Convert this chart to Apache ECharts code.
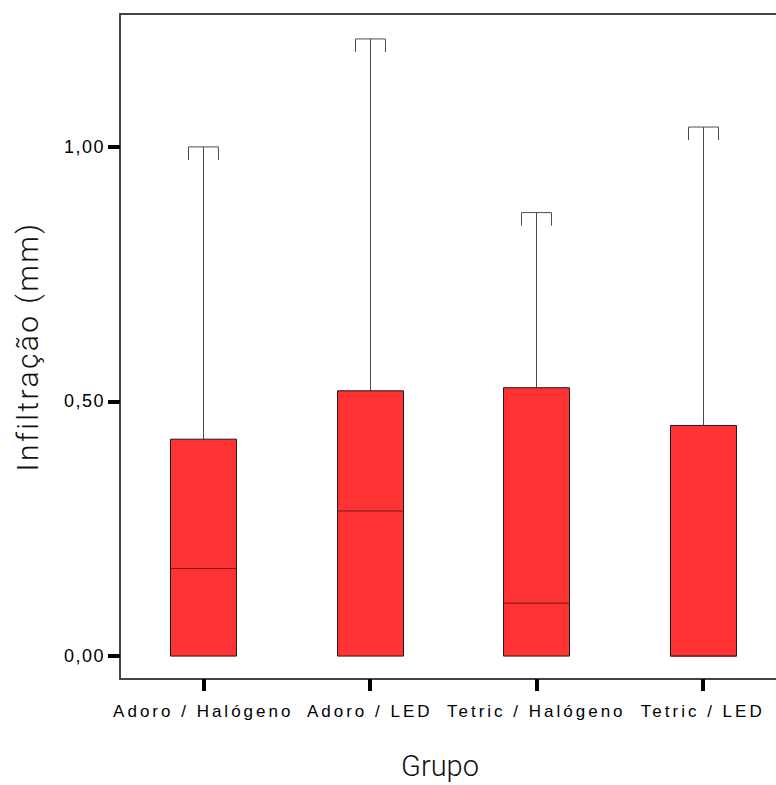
<!DOCTYPE html>
<html>
<head>
<meta charset="utf-8">
<script src="https://cdn.jsdelivr.net/npm/echarts@6/dist/echarts.min.js"></script>
<style>
  html, body { margin: 0; padding: 0; background: #ffffff; }
  #chart { width: 776px; height: 785px; }
</style>
</head>
<body>
<div id="chart"></div>
<script>
// Infiltração (mm) por grupo: mínimo, Q1, mediana, Q3, máximo
const groups = ['Adoro / Halógeno', 'Adoro / LED', 'Tetric / Halógeno', 'Tetric / LED'];
const lowWhisker = [0, 0, 0, 0];
const q1 = [0, 0, 0, 0];
const median = [0.172, 0.285, 0.104, 0];
const q3 = [0.426, 0.521, 0.527, 0.453];
const highWhisker = [1.0, 1.212, 0.871, 1.039];
const yTicks = [0, 0.5, 1];

const boxData = groups.map((g, i) => [i, lowWhisker[i], q1[i], median[i], q3[i], highWhisker[i]]);

const labelFont = "'Liberation Sans', Arial, sans-serif";
const titleFont = "Roboto, 'Open Sans', sans-serif";

function renderBox(params, api) {
  const idx = api.value(0);
  const band = api.size([1, 0])[0];
  const boxW = band * 0.396;
  const capW = band * 0.18;
  const capDrop = 13;
  const x = api.coord([idx, 0])[0];
  const yLo = api.coord([idx, api.value(1)])[1];
  const yQ1 = api.coord([idx, api.value(2)])[1];
  const yMed = api.coord([idx, api.value(3)])[1];
  const yQ3 = api.coord([idx, api.value(4)])[1];
  const yHi = api.coord([idx, api.value(5)])[1];
  const xc = Math.round(x) + 0.5;
  const whisker = { stroke: '#4d4d4d', lineWidth: 1 };
  const cap = { stroke: '#4d4d4d', lineWidth: 1, fill: null };
  const children = [
    { type: 'line', shape: { x1: xc, y1: yQ3, x2: xc, y2: yHi }, style: whisker },
    { type: 'polyline', shape: { points: [[xc - capW / 2, yHi + capDrop], [xc - capW / 2, yHi], [xc + capW / 2, yHi], [xc + capW / 2, yHi + capDrop]] }, style: cap }
  ];
  if (yLo - yQ1 > 0.5) {
    children.push({ type: 'line', shape: { x1: xc, y1: yQ1, x2: xc, y2: yLo }, style: whisker });
    children.push({ type: 'polyline', shape: { points: [[xc - capW / 2, yLo - capDrop], [xc - capW / 2, yLo], [xc + capW / 2, yLo], [xc + capW / 2, yLo - capDrop]] }, style: cap });
  }
  const bx = Math.round(x - boxW / 2) + 0.5;
  const bw = Math.round(boxW);
  children.push({ type: 'rect', shape: { x: bx, y: yQ3, width: bw, height: yQ1 - yQ3 }, style: { fill: '#ff3333', stroke: '#1a1a1a', lineWidth: 1 } });
  children.push({ type: 'line', shape: { x1: bx, y1: yMed, x2: bx + bw, y2: yMed }, style: { stroke: '#6e1a1a', lineWidth: 1 } });
  return { type: 'group', children: children };
}

const chart = echarts.init(document.getElementById('chart'), null, { renderer: 'svg' });

const frameLine = { color: '#444444', width: 2 };

const option = {
  animation: false,
  backgroundColor: '#ffffff',
  grid: {
    left: 120, top: 14, right: -10, bottom: 106,
    containLabel: false,
    outerBoundsMode: 'none',
    show: false
  },
  xAxis: [{
    type: 'category',
    data: groups,
    boundaryGap: true,
    name: 'Grupo',
    nameLocation: 'middle',
    nameGap: 72,
    nameTextStyle: { fontFamily: titleFont, fontWeight: 300, fontSize: 29, color: '#111111', padding: [0, 26, 0, 0] },
    axisLine: { show: true, onZero: false, lineStyle: frameLine },
    axisTick: { show: true, alignWithLabel: true, length: 12, lineStyle: { color: '#000000', width: 4 } },
    axisLabel: { fontFamily: labelFont, fontSize: 17, color: '#000000', margin: 24, interval: 0 },
    splitLine: { show: false }
  }, {
    // top edge of the frame
    type: 'category',
    data: groups,
    position: 'top',
    axisLine: { show: true, onZero: false, lineStyle: frameLine },
    axisTick: { show: false },
    axisLabel: { show: false },
    splitLine: { show: false }
  }],
  yAxis: {
    type: 'value',
    min: -0.045,
    max: 1.261,
    name: 'Infiltração (mm)',
    nameLocation: 'middle',
    nameRotate: 90,
    nameGap: 78,
    nameTextStyle: { fontFamily: titleFont, fontWeight: 300, fontSize: 30, color: '#111111' },
    axisLine: { show: true, lineStyle: frameLine },
    axisTick: { show: true, length: 12, customValues: yTicks, lineStyle: { color: '#000000', width: 4 } },
    axisLabel: {
      fontFamily: labelFont, fontSize: 18, color: '#000000', margin: 15,
      customValues: yTicks,
      formatter: v => v.toFixed(2).replace('.', ',')
    },
    splitLine: { show: false }
  },
  series: [{
    type: 'custom',
    renderItem: renderBox,
    encode: { x: 0, y: [1, 2, 3, 4, 5] },
    data: boxData,
    silent: true,
    clip: false
  }]
};

chart.setOption(option);

// widen the spacing of the axis text
function spaceLabels() {
  document.querySelectorAll('#chart svg text').forEach(t => {
    const s = t.textContent;
    if (groups.indexOf(s) >= 0) t.setAttribute('letter-spacing', '3px');
    else if (/^\d,\d\d$/.test(s)) t.setAttribute('letter-spacing', '1.5px');
    else if (s === 'Infiltração (mm)') t.setAttribute('letter-spacing', '2.4px');
  });
}
spaceLabels();
chart.on('finished', spaceLabels);
setTimeout(spaceLabels, 50);
</script>
</body>
</html>
